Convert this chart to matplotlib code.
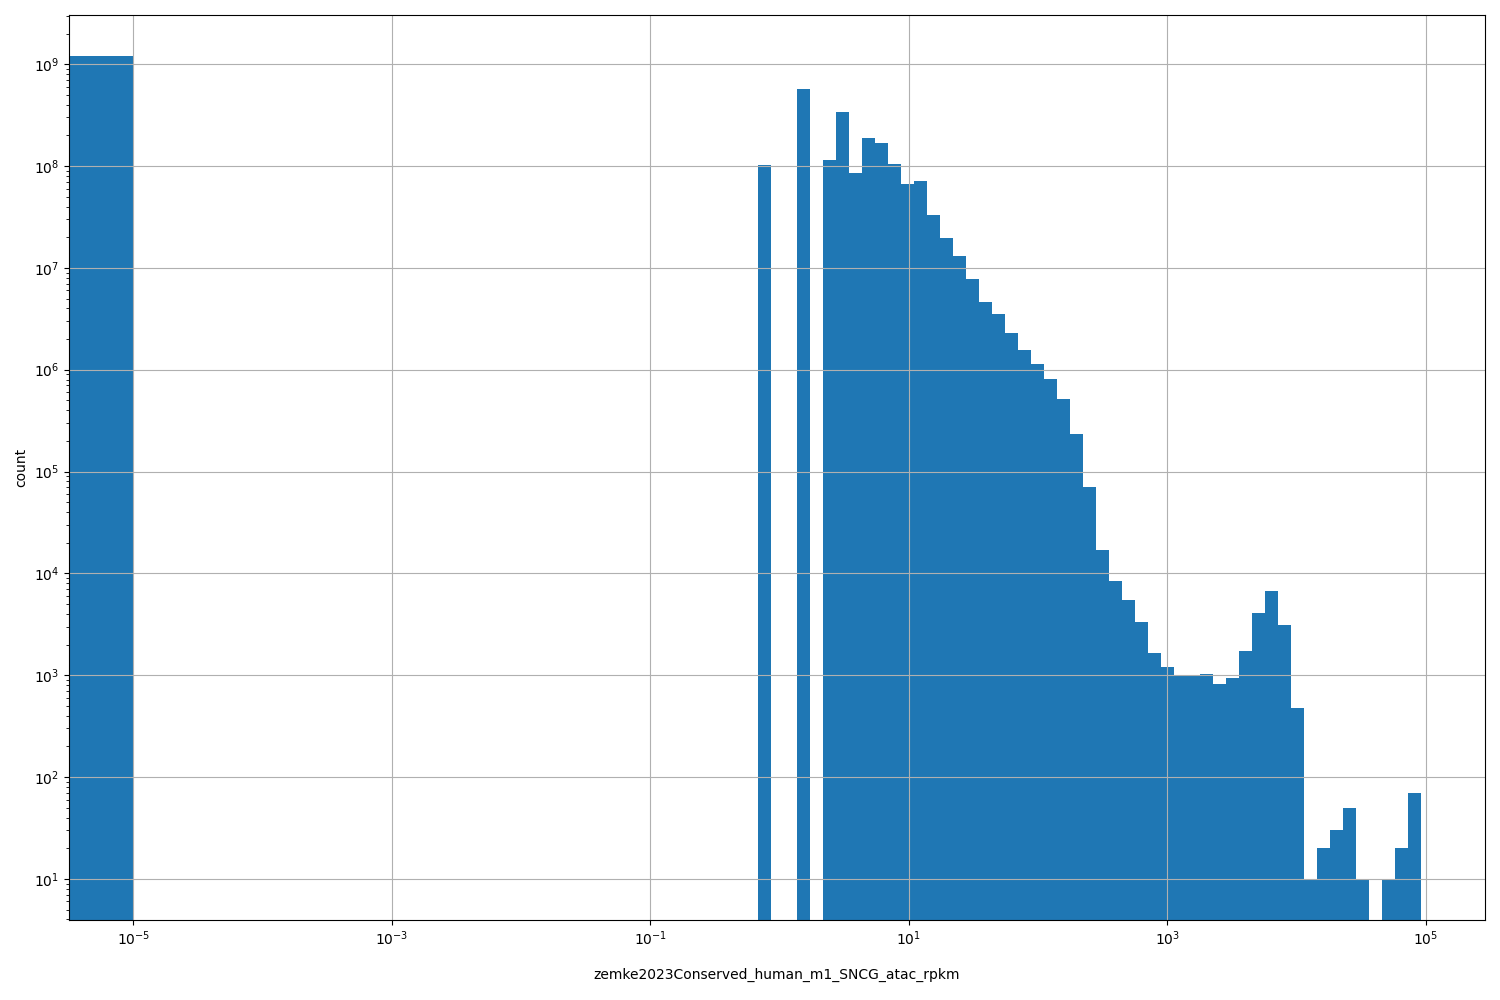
import matplotlib
matplotlib.use("Agg")
import matplotlib.pyplot as plt
from matplotlib.ticker import NullLocator
import numpy as np

# histogram of atac rpkm values (log bins), zero values in the first bin [0, 1e-5)
zero_count = 1.2e9
log_lo, log_hi = -0.167, 4.960
n_bins = 51
counts = [
    1.02e8, 0, 0, 5.68e8, 0, 1.14e8, 3.37e8, 8.5e7, 1.87e8, 1.67e8,
    1.04e8, 6.6e7, 7.08e7, 3.28e7, 1.95e7, 1.30e7, 7.71e6, 4.58e6, 3.49e6, 2.27e6,
    1.55e6, 1.13e6, 8.02e5, 5.1e5, 2.36e5, 7.1e4, 1.71e4, 8490, 5520, 3360,
    1660, 1210, 1010, 990, 1030, 826, 944, 1740, 4110, 6760,
    3130, 479, 10, 20, 30, 50, 10, 0, 10, 20,
    70,
]
x_ticks = [1e-5, 1e-3, 1e-1, 1e1, 1e3, 1e5]

log_edges = 10 ** np.linspace(log_lo, log_hi, n_bins + 1)
edges = np.concatenate([[0.0, 1e-5], log_edges])
weights = np.concatenate([[zero_count, 0.0], counts])
centers = np.concatenate([[5e-6, 1e-3], np.sqrt(log_edges[:-1] * log_edges[1:])])

fig, ax = plt.subplots(figsize=(15, 10), dpi=100)
fig.subplots_adjust(left=0.046, right=0.99, top=0.985, bottom=0.08)

ax.hist(centers, bins=edges, weights=weights, log=True, color="#1f77b4")
ax.set_xscale("log")
ax.set_xticks(x_ticks)
ax.xaxis.set_minor_locator(NullLocator())
ax.grid(True)
ax.set_xlabel("zemke2023Conserved_human_m1_SNCG_atac_rpkm", labelpad=14)
ax.set_ylabel("count")

fig.savefig("out.png")
